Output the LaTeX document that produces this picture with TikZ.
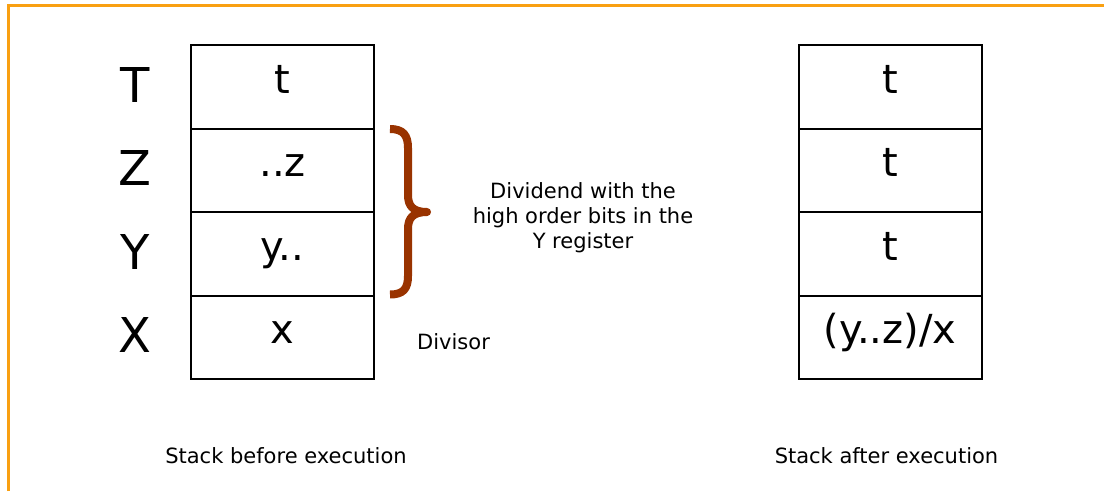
\documentclass[tikz,border=0pt]{standalone}
\usepackage{fontspec}
\setmainfont{DejaVu Sans}
\usetikzlibrary{calc,positioning}
\definecolor{frameorange}{HTML}{F9A012}
\definecolor{bracebrown}{HTML}{993300}

\tikzset{
  cell/.style={draw,line width=2pt,outer sep=0pt,minimum width=183pt,minimum height=83.5pt,inner sep=0pt,
    text height=48pt,text depth=35.5pt,font=\fontsize{40}{48}\selectfont},
  reg/.style={inner sep=0pt,text height=57pt,text depth=26.5pt,font=\fontsize{48}{56}\selectfont},
  caption/.style={inner sep=0pt,font=\fontsize{21}{25}\selectfont},
}

\begin{document}
\begin{tikzpicture}[x=1pt,y=-1pt]
  \useasboundingbox (0,0) rectangle (1104,491);
  % frame
  \draw[frameorange,line width=3pt] (8,491) -- (8,5) -- (1104,5);
  % stack before
  \node[cell] (t1) at (282.5,86.75) {t};
  \node[cell,below=0pt of t1] (z1) {..z};
  \node[cell,below=0pt of z1] (y1) {y..};
  \node[cell,below=0pt of y1] (x1) {x};
  \foreach \c/\r in {t1/T,z1/Z,y1/Y,x1/X}
    \node[reg] (l\c) at ($(\c.west)+(-56,0)$) {\r};
  % stack after
  \node[cell] (t2) at (890,86.75) {t};
  \node[cell,below=0pt of t2] (z2) {t};
  \node[cell,below=0pt of z2] (y2) {t};
  \node[cell,below=0pt of y2] (x2) {(y..z)/x};
  % brace
  \draw[bracebrown,line width=8pt,line join=round]
    (390,129) .. controls (403,129) and (408,135) .. (408,148) -- (408,195)
    .. controls (408,206) and (413,212) .. (427,212)
    .. controls (413,212) and (408,218) .. (408,229) -- (408,276)
    .. controls (408,289) and (403,294.5) .. (390,294.5);
  \node[caption,align=center] (dvd) at (583,218) {Dividend with the\\high order bits in the\\Y register};
  \node[caption,anchor=base west] (dvs) at (417,349) {Divisor};
  \node[caption,anchor=base] (cap1) at ($(x1.south)+(3.5,84)$) {Stack before execution};
  \node[caption,anchor=base] (cap2) at ($(x2.south)+(-3.5,84)$) {Stack after execution};
\end{tikzpicture}
\end{document}
